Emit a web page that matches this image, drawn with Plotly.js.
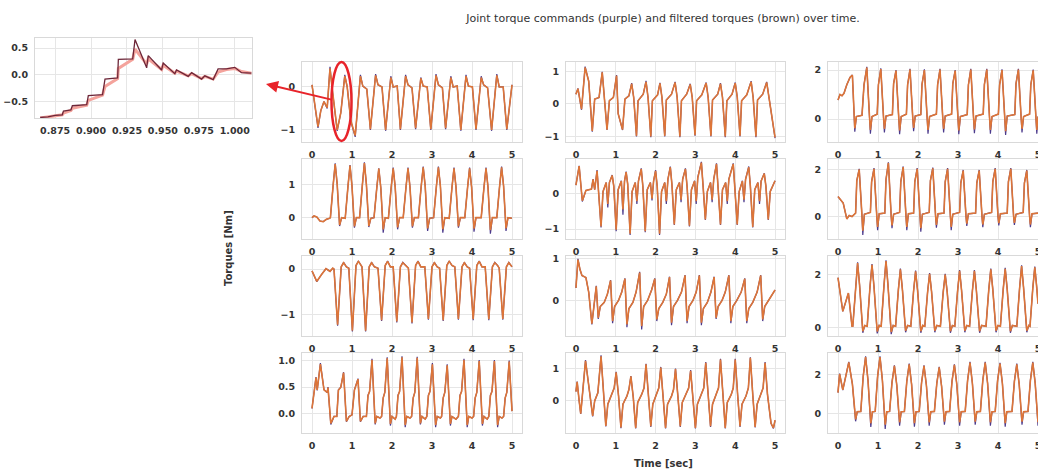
<!DOCTYPE html>
<html><head><meta charset="utf-8">
<script src="https://cdn.plot.ly/plotly-3.0.1.min.js"></script>
<style>html,body{margin:0;padding:0;overflow:hidden;background:#fff}#chart{width:1050px;height:471px}</style>
</head><body><div id="chart"></div>
<script>
// ---------- DATA ----------
// Inset (zoom of joint 1, 0.86 .. 1.01 s)
const inset_t = [0.8646,0.8700,0.8750,0.8800,0.8808,0.8860,0.8870,0.8970,0.8981,0.9080,0.9097,0.9185,0.9190,0.9290,0.9306,0.9387,0.9398,0.9491,0.9502,0.9583,0.9595,0.9676,0.9700,0.9769,0.9792,0.9850,0.9884,0.9942,1.0000,1.0047,1.0116];
const inset_cmd = [-0.80,-0.79,-0.76,-0.75,-0.68,-0.66,-0.58,-0.56,-0.39,-0.37,-0.08,-0.06,0.29,0.30,0.66,0.13,0.36,0.09,0.22,0.02,0.09,-0.03,0.04,-0.08,-0.02,-0.09,0.11,0.11,0.14,0.04,0.03];
const inset_filt = [-0.81,-0.79,-0.77,-0.75,-0.72,-0.67,-0.63,-0.57,-0.48,-0.38,-0.22,-0.07,0.12,0.29,0.48,0.20,0.30,0.10,0.18,0.03,0.07,-0.02,0.02,-0.07,-0.03,-0.08,0.05,0.10,0.12,0.06,0.03];

// Row 1, col 1
const p11_t = [0,0.05,0.15,0.22,0.30,0.38,0.45,0.50,0.56,0.63,0.72,0.82,0.88,0.97,1.08,1.16,1.21,1.27,1.37,1.46,1.54,1.59,1.65,1.75,1.84,1.92,1.97,2.03,2.13,2.21,2.29,2.34,2.40,2.50,2.59,2.67,2.72,2.78,2.88,2.97,3.05,3.10,3.16,3.26,3.34,3.42,3.47,3.53,3.63,3.72,3.80,3.85,3.91,4.01,4.10,4.18,4.23,4.29,4.39,4.49,4.57,4.62,4.68,4.78,4.87,5.00];
const p11_cmd = [0.05,-0.30,-0.95,-0.55,-0.34,-0.50,0.47,0.00,-0.50,-1.02,-0.60,0.28,0.00,-0.80,-1.16,-0.25,0.28,0.02,-0.05,-1.00,-0.20,0.30,0.05,0.00,-1.02,-0.20,0.25,0.00,0.02,-1.00,-0.20,0.28,0.05,-0.02,-0.98,-0.25,0.22,0.02,0.00,-1.00,-0.20,0.30,0.05,-0.02,-0.98,-0.20,0.25,0.00,0.02,-1.02,-0.20,0.28,0.02,0.00,-1.00,-0.20,0.25,0.05,-0.02,-1.02,-0.20,0.30,0.00,0.00,-1.00,0.05];
const p11_filt = [0.05,-0.28,-0.92,-0.55,-0.34,-0.48,0.43,0.00,-0.48,-1.00,-0.60,0.25,0.00,-0.78,-1.13,-0.25,0.25,0.02,-0.05,-0.98,-0.20,0.27,0.05,0.00,-1.00,-0.20,0.22,0.00,0.02,-0.98,-0.20,0.25,0.05,-0.02,-0.96,-0.25,0.20,0.02,0.00,-0.98,-0.20,0.27,0.05,-0.02,-0.96,-0.20,0.22,0.00,0.02,-1.00,-0.20,0.25,0.02,0.00,-0.98,-0.20,0.22,0.05,-0.02,-1.00,-0.20,0.27,0.00,0.00,-0.98,0.05];

// Row 1, col 2
const p12_t = [0,0.05,0.14,0.23,0.32,0.41,0.47,0.58,0.66,0.78,0.84,0.94,1.02,1.06,1.17,1.23,1.33,1.40,1.45,1.52,1.56,1.69,1.76,1.81,1.88,1.92,2.05,2.11,2.16,2.23,2.27,2.40,2.49,2.54,2.61,2.65,2.78,2.87,2.92,2.99,3.03,3.16,3.27,3.32,3.39,3.43,3.56,3.63,3.68,3.75,3.79,3.92,4.00,4.05,4.12,4.16,4.29,4.40,4.45,4.52,4.56,4.69,4.79,4.85,5.00];
const p12_cmd = [0.30,0.48,-0.18,1.15,0.70,-0.85,0.15,0.20,0.99,-0.80,0.10,0.20,0.89,-0.30,-0.80,0.15,0.25,0.64,0.20,-1.00,0.10,0.30,0.71,0.20,-1.02,0.10,0.28,0.65,0.20,-1.00,0.12,0.30,0.68,0.22,-1.02,0.10,0.30,0.62,0.20,-0.98,0.10,0.28,0.66,0.20,-1.00,0.12,0.30,0.64,0.20,-1.02,0.10,0.30,0.66,0.22,-1.00,0.10,0.28,0.70,0.20,-1.02,0.12,0.30,0.68,0.20,-1.05];
const p12_filt = [0.30,0.47,-0.16,1.12,0.70,-0.83,0.15,0.20,0.97,-0.79,0.10,0.20,0.87,-0.30,-0.79,0.15,0.25,0.62,0.20,-0.98,0.10,0.30,0.68,0.20,-1.00,0.10,0.28,0.63,0.20,-0.98,0.12,0.30,0.66,0.22,-1.00,0.10,0.30,0.60,0.20,-0.96,0.10,0.28,0.64,0.20,-0.98,0.12,0.30,0.62,0.20,-1.00,0.10,0.30,0.64,0.22,-0.98,0.10,0.28,0.68,0.20,-1.00,0.12,0.30,0.66,0.20,-1.03];

// Row 1, col 3
const p13_t = [0,0.05,0.10,0.15,0.22,0.30,0.36,0.40,0.42,0.46,0.60,0.65,0.72,0.79,0.81,0.85,0.98,1.01,1.07,1.14,1.16,1.20,1.36,1.39,1.45,1.52,1.54,1.58,1.71,1.74,1.80,1.87,1.89,1.93,2.07,2.10,2.16,2.23,2.25,2.29,2.46,2.49,2.55,2.62,2.64,2.68,2.84,2.87,2.93,3.00,3.02,3.06,3.23,3.26,3.32,3.39,3.41,3.45,3.63,3.66,3.72,3.79,3.81,3.85,4.01,4.04,4.10,4.17,4.19,4.23,4.42,4.45,4.51,4.58,4.60,4.64,4.79,4.82,4.88,4.95,4.97,5.00];
const p13_cmd = [0.78,1.00,0.95,1.05,1.40,1.70,1.80,0.00,-0.52,0.10,0.15,1.40,2.13,0.00,-0.60,0.10,0.20,1.40,2.07,0.00,-0.55,0.12,0.18,1.45,2.00,0.00,-0.62,0.10,0.20,1.40,2.05,0.00,-0.50,0.12,0.18,1.42,2.03,0.00,-0.60,0.10,0.20,1.40,2.05,0.00,-0.55,0.12,0.20,1.45,2.00,0.00,-0.62,0.10,0.18,1.40,2.05,0.00,-0.58,0.12,0.20,1.42,2.05,0.00,-0.60,0.10,0.20,1.40,2.03,0.00,-0.65,0.12,0.18,1.45,2.05,0.00,-0.55,0.10,0.20,1.40,2.02,0.00,-0.60,0.10];
const p13_filt = [0.78,1.00,0.95,1.05,1.40,1.70,1.79,0.02,-0.38,0.10,0.15,1.39,2.10,0.02,-0.45,0.10,0.20,1.39,2.04,0.02,-0.40,0.12,0.18,1.44,1.98,0.02,-0.47,0.10,0.20,1.39,2.02,0.02,-0.36,0.12,0.18,1.41,2.00,0.02,-0.45,0.10,0.20,1.39,2.02,0.02,-0.40,0.12,0.20,1.44,1.98,0.02,-0.47,0.10,0.18,1.39,2.02,0.02,-0.43,0.12,0.20,1.41,2.02,0.02,-0.45,0.10,0.20,1.39,2.00,0.02,-0.50,0.12,0.18,1.44,2.02,0.02,-0.40,0.10,0.20,1.39,1.99,0.02,-0.45,0.10];

// Row 2, col 1
const p21_t = [0,0.05,0.12,0.20,0.28,0.36,0.44,0.46,0.53,0.58,0.63,0.69,0.74,0.83,0.90,0.95,1.00,1.06,1.11,1.19,1.26,1.31,1.36,1.42,1.47,1.55,1.62,1.67,1.72,1.78,1.83,1.91,1.98,2.03,2.08,2.14,2.19,2.28,2.35,2.40,2.45,2.51,2.56,2.66,2.73,2.78,2.83,2.89,2.94,3.04,3.11,3.16,3.21,3.27,3.32,3.43,3.50,3.55,3.60,3.66,3.71,3.82,3.89,3.94,3.99,4.05,4.10,4.23,4.30,4.35,4.40,4.46,4.51,4.62,4.69,4.74,4.79,4.85,4.90,5.00];
const p21_cmd = [0.00,0.05,0.02,-0.10,-0.12,-0.05,-0.02,0.00,1.00,1.63,1.00,-0.25,0.00,-0.02,0.95,1.58,0.95,-0.30,0.00,0.00,1.00,1.66,1.00,-0.28,-0.02,0.00,0.90,1.48,0.90,-0.45,0.00,-0.02,0.92,1.50,0.92,-0.35,0.00,0.00,0.92,1.50,0.92,-0.30,0.00,0.00,0.95,1.53,0.95,-0.40,-0.02,0.00,0.95,1.53,0.95,-0.45,0.00,-0.02,0.92,1.50,0.92,-0.30,0.00,0.00,0.92,1.50,0.92,-0.42,0.00,0.00,0.92,1.50,0.92,-0.48,0.00,0.00,0.95,1.53,0.95,-0.40,0.00,-0.02];
const p21_filt = [0.00,0.05,0.02,-0.10,-0.12,-0.05,-0.02,0.00,0.99,1.61,0.99,-0.22,0.00,-0.02,0.94,1.56,0.94,-0.26,0.00,0.00,0.99,1.64,0.99,-0.25,-0.02,0.00,0.89,1.47,0.89,-0.35,0.00,-0.02,0.91,1.48,0.91,-0.29,0.00,0.00,0.91,1.48,0.91,-0.26,0.00,0.00,0.94,1.51,0.94,-0.32,-0.02,0.00,0.94,1.51,0.94,-0.35,0.00,-0.02,0.91,1.48,0.91,-0.26,0.00,0.00,0.91,1.48,0.91,-0.33,0.00,0.00,0.91,1.48,0.91,-0.37,0.00,0.00,0.94,1.51,0.94,-0.32,0.00,-0.02];

// Row 2, col 2
const p22_t = [0,0.08,0.16,0.25,0.39,0.43,0.47,0.53,0.63,0.68,0.76,0.80,0.84,0.91,0.95,1.01,1.06,1.14,1.18,1.22,1.26,1.30,1.36,1.41,1.49,1.53,1.57,1.64,1.68,1.74,1.79,1.87,1.91,1.95,2.00,2.04,2.10,2.15,2.23,2.27,2.31,2.37,2.41,2.47,2.52,2.60,2.64,2.68,2.75,2.79,2.85,2.90,2.98,3.02,3.06,3.15,3.19,3.25,3.30,3.38,3.42,3.46,3.53,3.57,3.63,3.68,3.76,3.80,3.84,3.95,3.99,4.05,4.10,4.18,4.22,4.26,4.34,4.38,4.44,4.49,4.57,4.61,4.65,4.73,4.77,4.83,4.88,4.95,5.00];
const p22_cmd = [0.23,0.77,-0.23,0.08,0.12,0.40,0.10,0.65,-0.96,0.05,0.30,-0.40,0.30,0.51,0.20,-1.06,0.10,0.35,-0.60,0.35,0.61,0.25,-1.17,0.05,0.30,-0.30,0.35,0.70,0.20,-1.09,0.10,0.30,-0.20,0.35,0.65,0.20,-1.17,0.05,0.30,-0.30,0.40,0.75,0.25,-0.89,0.10,0.30,-0.25,0.40,0.70,0.20,-0.93,0.10,0.35,-0.30,0.45,0.88,0.25,-0.75,0.05,0.30,-0.25,0.40,0.84,0.20,-0.89,0.10,0.30,-0.30,0.40,0.84,0.25,-0.89,0.05,0.35,-0.25,0.40,0.75,0.20,-0.96,0.10,0.30,-0.30,0.35,0.56,0.20,-0.75,0.05,0.20,0.35];
const p22_filt = [0.23,0.76,-0.21,0.08,0.12,0.39,0.10,0.63,-0.93,0.05,0.30,-0.30,0.30,0.50,0.20,-1.02,0.10,0.34,-0.45,0.34,0.59,0.25,-1.13,0.05,0.30,-0.22,0.34,0.68,0.20,-1.06,0.10,0.30,-0.15,0.34,0.63,0.20,-1.13,0.05,0.30,-0.22,0.39,0.73,0.25,-0.87,0.10,0.30,-0.18,0.39,0.68,0.20,-0.91,0.10,0.34,-0.22,0.43,0.86,0.25,-0.73,0.05,0.30,-0.18,0.39,0.82,0.20,-0.87,0.10,0.30,-0.22,0.39,0.82,0.25,-0.87,0.05,0.34,-0.18,0.39,0.73,0.20,-0.94,0.10,0.30,-0.22,0.34,0.55,0.20,-0.73,0.05,0.20,0.35];

// Row 2, col 3
const p23_t = [0,0.13,0.22,0.28,0.35,0.41,0.44,0.47,0.53,0.60,0.62,0.66,0.81,0.84,0.90,0.97,0.99,1.03,1.17,1.20,1.26,1.33,1.35,1.39,1.54,1.57,1.63,1.70,1.72,1.76,1.89,1.92,1.98,2.05,2.07,2.11,2.28,2.31,2.37,2.44,2.46,2.50,2.65,2.68,2.74,2.81,2.83,2.87,3.04,3.07,3.13,3.20,3.22,3.26,3.44,3.47,3.53,3.60,3.62,3.66,3.84,3.87,3.93,4.00,4.02,4.06,4.23,4.26,4.32,4.39,4.41,4.45,4.63,4.66,4.72,4.79,4.81,4.85,5.00];
const p23_cmd = [0.86,0.58,-0.10,0.05,0.00,0.10,0.15,1.55,2.05,0.00,-0.79,0.10,0.18,1.50,2.08,0.00,-0.58,0.12,0.15,1.60,2.33,0.00,-0.50,0.10,0.18,1.50,2.15,0.00,-0.58,0.12,0.15,1.50,2.08,0.00,-0.65,0.10,0.18,1.55,2.10,0.00,-0.48,0.12,0.15,1.50,2.08,0.00,-0.58,0.10,0.18,1.45,2.00,0.00,-0.40,0.12,0.15,1.45,2.00,0.00,-0.45,0.10,0.18,1.50,2.08,0.00,-0.38,0.12,0.15,1.50,2.08,0.00,-0.36,0.10,0.18,1.45,2.00,0.00,-0.45,0.12,0.15];
const p23_filt = [0.86,0.58,-0.10,0.05,0.00,0.10,0.15,1.53,2.02,0.02,-0.60,0.10,0.18,1.48,2.05,0.02,-0.44,0.12,0.15,1.58,2.30,0.02,-0.38,0.10,0.18,1.48,2.12,0.02,-0.44,0.12,0.15,1.48,2.05,0.02,-0.50,0.10,0.18,1.53,2.07,0.02,-0.36,0.12,0.15,1.48,2.05,0.02,-0.44,0.10,0.18,1.43,1.97,0.02,-0.30,0.12,0.15,1.43,1.97,0.02,-0.34,0.10,0.18,1.48,2.05,0.02,-0.28,0.12,0.15,1.48,2.05,0.02,-0.27,0.10,0.18,1.43,1.97,0.02,-0.34,0.12,0.15];

// Row 3, col 1
const p31_t = [0,0.12,0.23,0.35,0.45,0.52,0.55,0.64,0.73,0.79,0.86,0.92,1.01,1.10,1.16,1.23,1.25,1.34,1.43,1.49,1.56,1.65,1.74,1.83,1.89,1.96,2.03,2.12,2.21,2.27,2.34,2.41,2.50,2.59,2.65,2.72,2.82,2.91,3.00,3.06,3.13,3.19,3.28,3.37,3.43,3.50,3.57,3.66,3.75,3.81,3.88,3.94,4.03,4.12,4.18,4.25,4.33,4.42,4.51,4.57,4.64,4.68,4.77,4.86,4.92,5.00];
const p31_cmd = [-0.04,-0.28,-0.13,0.01,-0.05,0.02,0.00,-1.25,0.05,0.15,0.05,0.02,-1.38,0.08,0.18,0.08,0.05,-1.38,0.05,0.15,0.05,0.02,-1.15,0.08,0.18,0.05,0.05,-1.18,0.05,0.15,0.08,0.02,-1.20,0.08,0.18,0.05,0.05,-1.12,0.05,0.15,0.05,0.02,-1.15,0.08,0.18,0.08,0.05,-1.12,0.05,0.15,0.05,0.02,-1.13,0.08,0.18,0.05,0.05,-1.13,0.05,0.15,0.08,0.02,-1.12,0.05,0.15,0.05];
const p31_filt = [-0.04,-0.27,-0.13,0.01,-0.05,0.02,0.00,-1.23,0.05,0.14,0.05,0.02,-1.36,0.08,0.17,0.08,0.05,-1.36,0.05,0.14,0.05,0.02,-1.13,0.08,0.17,0.05,0.05,-1.16,0.05,0.14,0.08,0.02,-1.18,0.08,0.17,0.05,0.05,-1.10,0.05,0.14,0.05,0.02,-1.13,0.08,0.17,0.08,0.05,-1.10,0.05,0.14,0.05,0.02,-1.11,0.08,0.17,0.05,0.05,-1.11,0.05,0.14,0.08,0.02,-1.10,0.05,0.14,0.05];

// Row 3, col 2
const p32_t = [0,0.05,0.10,0.15,0.25,0.32,0.40,0.45,0.51,0.56,0.61,0.71,0.79,0.87,0.92,0.97,1.07,1.15,1.23,1.28,1.33,1.43,1.51,1.60,1.65,1.70,1.80,1.90,1.98,2.03,2.08,2.18,2.27,2.35,2.40,2.45,2.55,2.65,2.74,2.79,2.84,2.94,3.02,3.10,3.15,3.20,3.30,3.39,3.47,3.52,3.57,3.67,3.75,3.84,3.89,3.94,4.04,4.15,4.24,4.29,4.34,4.44,4.55,4.64,4.69,4.74,4.84,5.00];
const p32_cmd = [0.30,1.00,0.75,0.60,0.55,0.20,-0.58,-0.10,0.35,-0.45,-0.15,-0.05,0.15,0.49,-0.55,-0.15,0.00,0.20,0.53,-0.65,-0.20,-0.05,0.20,0.69,-0.70,-0.15,0.00,0.25,0.53,-0.50,-0.20,-0.05,0.15,0.57,-0.60,-0.15,0.00,0.20,0.61,-0.55,-0.15,0.00,0.20,0.61,-0.60,-0.20,-0.05,0.20,0.57,-0.45,-0.15,0.00,0.20,0.61,-0.55,-0.15,0.00,0.20,0.53,-0.55,-0.20,-0.05,0.20,0.61,-0.50,-0.15,0.00,0.25];
const p32_filt = [0.30,0.98,0.75,0.60,0.55,0.20,-0.56,-0.10,0.34,-0.42,-0.15,-0.05,0.15,0.48,-0.50,-0.15,0.00,0.20,0.52,-0.58,-0.20,-0.05,0.20,0.67,-0.62,-0.15,0.00,0.25,0.52,-0.46,-0.20,-0.05,0.15,0.56,-0.54,-0.15,0.00,0.20,0.60,-0.50,-0.15,0.00,0.20,0.60,-0.54,-0.20,-0.05,0.20,0.56,-0.42,-0.15,0.00,0.20,0.60,-0.50,-0.15,0.00,0.20,0.52,-0.50,-0.20,-0.05,0.20,0.60,-0.46,-0.15,0.00,0.25];

// Row 3, col 3
const p33_t = [0,0.12,0.26,0.35,0.37,0.44,0.49,0.54,0.60,0.62,0.67,0.73,0.80,0.85,0.90,0.96,0.98,1.03,1.08,1.15,1.20,1.25,1.31,1.33,1.38,1.44,1.51,1.56,1.61,1.67,1.69,1.74,1.82,1.89,1.94,1.99,2.05,2.07,2.12,2.17,2.24,2.29,2.34,2.40,2.42,2.47,2.56,2.63,2.68,2.73,2.79,2.81,2.86,2.92,2.99,3.04,3.09,3.15,3.17,3.22,3.29,3.36,3.41,3.46,3.52,3.54,3.59,3.70,3.77,3.82,3.87,3.93,3.95,4.00,4.06,4.13,4.18,4.23,4.29,4.31,4.36,4.47,4.54,4.59,4.64,4.70,4.72,4.77,4.80,4.87,4.92,4.97,5.00];
const p33_cmd = [1.88,0.61,1.30,0.05,0.05,1.60,2.46,1.60,0.00,-0.20,0.08,0.05,1.55,2.40,1.55,0.00,-0.22,0.08,0.05,1.60,2.54,1.60,0.00,-0.25,0.08,0.05,1.45,2.23,1.45,0.00,-0.18,0.08,0.05,1.40,2.15,1.40,0.00,-0.20,0.08,0.05,1.35,2.06,1.35,0.00,-0.18,0.08,0.05,1.35,2.03,1.35,0.00,-0.20,0.08,0.05,1.40,2.17,1.40,0.00,-0.18,0.08,0.05,1.40,2.17,1.40,0.00,-0.20,0.08,0.05,1.45,2.23,1.45,0.00,-0.18,0.08,0.05,1.45,2.25,1.45,0.00,-0.20,0.08,0.05,1.50,2.35,1.50,0.00,-0.18,0.08,0.05,1.50,2.30,1.50,0.90];
const p33_filt = [1.88,0.61,1.30,0.05,0.05,1.58,2.43,1.58,0.02,-0.14,0.08,0.05,1.53,2.37,1.53,0.02,-0.15,0.08,0.05,1.58,2.51,1.58,0.02,-0.17,0.08,0.05,1.43,2.20,1.43,0.02,-0.12,0.08,0.05,1.38,2.12,1.38,0.02,-0.14,0.08,0.05,1.33,2.03,1.33,0.02,-0.12,0.08,0.05,1.33,2.00,1.33,0.02,-0.14,0.08,0.05,1.38,2.14,1.38,0.02,-0.12,0.08,0.05,1.38,2.14,1.38,0.02,-0.14,0.08,0.05,1.43,2.20,1.43,0.02,-0.12,0.08,0.05,1.43,2.22,1.43,0.02,-0.14,0.08,0.05,1.48,2.32,1.48,0.02,-0.12,0.08,0.05,1.48,2.27,1.48,0.90];

// Row 4, col 1
const p41_t = [0,0.10,0.13,0.21,0.30,0.38,0.40,0.47,0.55,0.62,0.66,0.72,0.79,0.86,0.93,1.00,1.06,1.15,1.21,1.28,1.36,1.40,1.44,1.50,1.58,1.62,1.70,1.74,1.78,1.82,1.88,1.96,2.00,2.08,2.11,2.15,2.19,2.25,2.33,2.37,2.45,2.49,2.53,2.57,2.63,2.71,2.75,2.83,2.87,2.91,2.95,3.01,3.09,3.13,3.21,3.24,3.28,3.32,3.38,3.46,3.50,3.60,3.66,3.70,3.74,3.80,3.88,3.92,4.00,4.04,4.08,4.12,4.18,4.26,4.30,4.38,4.42,4.46,4.50,4.56,4.64,4.68,4.75,4.79,4.83,4.87,4.93,5.00];
const p41_cmd = [0.10,0.69,0.44,0.95,0.45,0.40,0.50,-0.20,-0.05,-0.05,0.45,0.50,0.78,-0.15,-0.05,-0.02,0.45,0.66,-0.15,-0.05,-0.05,0.35,0.42,1.03,-0.20,-0.05,-0.08,-0.05,0.30,0.40,1.06,-0.22,-0.05,-0.10,-0.05,0.35,0.42,1.08,-0.25,-0.05,-0.08,-0.05,0.30,0.40,1.07,-0.20,-0.05,-0.10,-0.05,0.35,0.42,0.95,-0.25,-0.05,-0.08,-0.05,0.30,0.40,0.93,-0.22,-0.05,-0.10,-0.05,0.35,0.42,1.03,-0.25,-0.05,-0.08,-0.05,0.30,0.40,1.01,-0.22,-0.05,-0.10,-0.05,0.35,0.42,1.01,-0.25,-0.05,-0.08,-0.05,0.30,0.40,1.00,0.05];
const p41_filt = [0.10,0.68,0.45,0.93,0.45,0.40,0.49,-0.18,-0.05,-0.05,0.44,0.50,0.77,-0.14,-0.05,-0.02,0.44,0.65,-0.14,-0.05,-0.05,0.34,0.42,1.01,-0.18,-0.05,-0.08,-0.05,0.30,0.40,1.04,-0.19,-0.05,-0.10,-0.05,0.34,0.42,1.06,-0.21,-0.05,-0.08,-0.05,0.30,0.40,1.05,-0.18,-0.05,-0.10,-0.05,0.34,0.42,0.93,-0.21,-0.05,-0.08,-0.05,0.30,0.40,0.91,-0.19,-0.05,-0.10,-0.05,0.34,0.42,1.01,-0.21,-0.05,-0.08,-0.05,0.30,0.40,0.99,-0.19,-0.05,-0.10,-0.05,0.34,0.42,0.99,-0.21,-0.05,-0.08,-0.05,0.30,0.40,0.98,0.05];

// Row 4, col 2
const p42_t = [0,0.03,0.08,0.12,0.24,0.32,0.42,0.47,0.55,0.63,0.69,0.75,0.80,0.90,0.96,1.01,1.07,1.13,1.18,1.28,1.33,1.38,1.44,1.50,1.55,1.65,1.71,1.76,1.82,1.88,1.93,2.03,2.08,2.13,2.19,2.25,2.30,2.40,2.45,2.50,2.56,2.62,2.67,2.77,2.83,2.88,2.94,3.00,3.05,3.15,3.21,3.26,3.32,3.38,3.43,3.53,3.58,3.63,3.69,3.75,3.80,3.90,3.95,4.00,4.06,4.12,4.17,4.27,4.33,4.38,4.44,4.50,4.55,4.65,4.70,4.75,4.81,4.90,4.96,5.00];
const p42_cmd = [0.29,0.60,0.00,-0.40,1.26,0.50,-0.48,0.00,0.25,1.41,0.20,-0.79,-0.10,0.20,0.40,0.90,0.15,-0.84,-0.10,0.15,0.35,0.77,0.10,-0.85,-0.05,0.20,0.40,1.15,0.20,-0.80,-0.10,0.20,0.40,1.05,0.20,-0.85,-0.10,0.15,0.35,1.00,0.15,-0.80,-0.05,0.20,0.40,0.95,0.15,-0.85,-0.10,0.20,0.40,1.20,0.20,-0.80,-0.10,0.20,0.40,1.30,0.20,-0.85,-0.05,0.20,0.40,1.30,0.20,-0.80,-0.10,0.15,0.40,1.35,0.20,-0.82,-0.10,0.20,0.40,1.20,0.20,-0.70,-0.85,-0.60];
const p42_filt = [0.29,0.59,0.01,-0.39,1.24,0.50,-0.46,0.00,0.25,1.38,0.20,-0.77,-0.10,0.20,0.40,0.88,0.15,-0.82,-0.10,0.15,0.35,0.76,0.10,-0.83,-0.05,0.20,0.40,1.13,0.20,-0.78,-0.10,0.20,0.40,1.03,0.20,-0.83,-0.10,0.15,0.35,0.98,0.15,-0.78,-0.05,0.20,0.40,0.93,0.15,-0.83,-0.10,0.20,0.40,1.18,0.20,-0.78,-0.10,0.20,0.40,1.28,0.20,-0.83,-0.05,0.20,0.40,1.28,0.20,-0.78,-0.10,0.15,0.40,1.33,0.20,-0.80,-0.10,0.20,0.40,1.18,0.20,-0.69,-0.83,-0.59];

// Row 4, col 3
const p43_t = [0,0.04,0.12,0.27,0.36,0.42,0.44,0.48,0.57,0.63,0.69,0.75,0.80,0.82,0.86,0.93,0.99,1.05,1.11,1.16,1.18,1.22,1.29,1.35,1.41,1.47,1.52,1.54,1.58,1.66,1.72,1.78,1.84,1.89,1.91,1.95,2.03,2.09,2.15,2.21,2.26,2.28,2.32,2.41,2.47,2.53,2.59,2.64,2.66,2.70,2.79,2.85,2.91,2.97,3.02,3.04,3.08,3.18,3.24,3.30,3.36,3.41,3.43,3.47,3.56,3.62,3.68,3.74,3.79,3.81,3.85,3.93,3.99,4.05,4.11,4.16,4.18,4.22,4.35,4.41,4.47,4.53,4.58,4.60,4.64,4.75,4.81,4.87,4.93,4.98,5.00];
const p43_cmd = [1.07,2.03,1.20,2.62,1.50,0.00,-0.38,0.10,0.12,1.90,2.90,1.70,0.00,-0.67,0.10,0.12,1.90,2.90,1.70,0.00,-0.77,0.10,0.12,1.60,2.45,1.45,0.00,-0.60,0.10,0.12,1.65,2.53,1.50,0.00,-0.65,0.10,0.12,1.60,2.45,1.45,0.00,-0.60,0.10,0.12,1.55,2.37,1.40,0.00,-0.55,0.10,0.12,1.65,2.50,1.50,0.00,-0.60,0.10,0.12,1.70,2.62,1.55,0.00,-0.55,0.10,0.12,1.70,2.62,1.55,0.00,-0.60,0.10,0.12,1.70,2.57,1.55,0.00,-0.65,0.10,0.12,1.65,2.53,1.50,0.00,-0.55,0.10,0.12,1.70,2.62,1.55,0.00,-0.60];
const p43_filt = [1.07,2.01,1.21,2.59,1.50,0.02,-0.28,0.10,0.12,1.88,2.86,1.68,0.02,-0.48,0.10,0.12,1.88,2.86,1.68,0.02,-0.55,0.10,0.12,1.58,2.42,1.43,0.02,-0.43,0.10,0.12,1.63,2.50,1.48,0.02,-0.47,0.10,0.12,1.58,2.42,1.43,0.02,-0.43,0.10,0.12,1.53,2.34,1.38,0.02,-0.40,0.10,0.12,1.63,2.47,1.48,0.02,-0.43,0.10,0.12,1.68,2.59,1.53,0.02,-0.40,0.10,0.12,1.68,2.59,1.53,0.02,-0.43,0.10,0.12,1.68,2.54,1.53,0.02,-0.47,0.10,0.12,1.63,2.50,1.48,0.02,-0.40,0.10,0.12,1.68,2.59,1.53,0.02,-0.43];

const xTicks = [0,1,2,3,4,5];
const insetXTicks = [0.875,0.900,0.925,0.950,0.975,1.000];
const insetXLabels = ['0.875','0.900','0.925','0.950','0.975','1.000'];
const insetYTicks = [-0.5,0,0.5];
const insetYLabels = ['\u22120.5','0.0','0.5'];

// ---------- LAYOUT / STYLE ----------
const W = 1050, H = 471;
const colPx = [[302,522],[566,785],[828,1048]];
const rowPx = [[62,142],[159,239],[256,336],[353,433]];
const panels = [
  {t:p11_t,c:p11_cmd,f:p11_filt,yr:[-1.28,0.58],yt:[-1,0]},
  {t:p12_t,c:p12_cmd,f:p12_filt,yr:[-1.17,1.29],yt:[-1,0,1]},
  {t:p13_t,c:p13_cmd,f:p13_filt,yr:[-0.94,2.33],yt:[0,2]},
  {t:p21_t,c:p21_cmd,f:p21_filt,yr:[-0.64,1.76],yt:[0,1]},
  {t:p22_t,c:p22_cmd,f:p22_filt,yr:[-1.28,0.96],yt:[-1,0]},
  {t:p23_t,c:p23_cmd,f:p23_filt,yr:[-0.96,2.47],yt:[0,2]},
  {t:p31_t,c:p31_cmd,f:p31_filt,yr:[-1.48,0.29],yt:[-1,0]},
  {t:p32_t,c:p32_cmd,f:p32_filt,yr:[-0.86,1.07],yt:[0,1]},
  {t:p33_t,c:p33_cmd,f:p33_filt,yr:[-0.32,2.70],yt:[0,2]},
  {t:p41_t,c:p41_cmd,f:p41_filt,yr:[-0.36,1.14],yt:[0,0.5,1],fmt:'.1f'},
  {t:p42_t,c:p42_cmd,f:p42_filt,yr:[-0.99,1.48],yt:[0,1]},
  {t:p43_t,c:p43_cmd,f:p43_filt,yr:[-0.97,3.07],yt:[0,2]}
];
const tickFont = {family:'DejaVu Sans', size:9.5, color:'#333333', weight:'bold'};
const CMD = '#4c3a8c', FILT = '#dd7538';
function axisStyle(extra){
  return Object.assign({showgrid:true, gridcolor:'#e6e6e6', gridwidth:1, zeroline:false,
    showline:true, linecolor:'#d9d9d9', linewidth:1, mirror:true, ticks:'',
    tickfont:tickFont, fixedrange:true, ticklabelstandoff:4}, extra);
}
const fx = p => p/W, fy = p => 1 - p/H;

const data = [];
const layout = {
  width: W, height: H, margin:{l:0,r:0,t:0,b:0},
  paper_bgcolor:'#ffffff', plot_bgcolor:'#ffffff', showlegend:false,
  title:{text:'Joint torque commands (purple) and filtered torques (brown) over time.',
    x: fx(663), xanchor:'center', y: fy(18), yanchor:'middle',
    font:{family:'DejaVu Sans', size:11, color:'#333333'}},
  annotations:[], shapes:[]
};

// inset
data.push({x:inset_t, y:inset_filt, xaxis:'x', yaxis:'y', mode:'lines', line:{color:'#f4a39c', width:3}, hoverinfo:'skip'});
data.push({x:inset_t, y:inset_cmd, xaxis:'x', yaxis:'y', mode:'lines', line:{color:'#6d2638', width:1.3}, hoverinfo:'skip'});
layout.xaxis = axisStyle({domain:[fx(35),fx(252)], range:[0.861,1.012], tickvals:insetXTicks, ticktext:insetXLabels, anchor:'y'});
layout.yaxis = axisStyle({domain:[fy(118),fy(38)], range:[-0.81,0.69], tickvals:insetYTicks, ticktext:insetYLabels, anchor:'x'});

panels.forEach((p,i)=>{
  const n = i+2, r = Math.floor(i/3), c = i%3;
  const xa = 'x'+n, ya = 'y'+n;
  data.push({x:p.t, y:p.c, xaxis:xa, yaxis:ya, mode:'lines', line:{color:CMD, width:1.2}, hoverinfo:'skip'});
  data.push({x:p.t, y:p.f, xaxis:xa, yaxis:ya, mode:'lines', line:{color:FILT, width:1.6}, hoverinfo:'skip'});
  layout['xaxis'+n] = axisStyle({domain:[fx(colPx[c][0]),fx(colPx[c][1])], range:[-0.25,5.25], tickvals:xTicks, anchor:ya});
  const yx = axisStyle({domain:[fy(rowPx[r][1]),fy(rowPx[r][0])], range:p.yr, tickvals:p.yt, anchor:xa});
  if (p.fmt) yx.tickformat = p.fmt;
  layout['yaxis'+n] = yx;
});

layout.annotations.push(
  {text:'<b>Time [sec]</b>', xref:'paper', yref:'paper', x:fx(663), y:fy(463), showarrow:false,
   font:{family:'DejaVu Sans', size:10, color:'#333333'}, xanchor:'center', yanchor:'middle'},
  {text:'<b>Torques [Nm]</b>', xref:'paper', yref:'paper', x:fx(228), y:fy(248), showarrow:false, textangle:-90,
   font:{family:'DejaVu Sans', size:10, color:'#333333'}, xanchor:'center', yanchor:'middle'},
  {text:'', xref:'paper', yref:'paper', x:fx(266), y:fy(84), ax:67, ay:16, showarrow:true,
   arrowhead:2, arrowsize:1.2, arrowwidth:2, arrowcolor:'#e8232a'}
);
layout.shapes.push({type:'circle', xref:'paper', yref:'paper', x0:fx(331.5), x1:fx(351.5), y0:fy(141), y1:fy(62),
  line:{color:'#e8232a', width:2.5}, fillcolor:'rgba(0,0,0,0)'});

Plotly.newPlot('chart', data, layout, {staticPlot:true, displayModeBar:false});
</script></body></html>
